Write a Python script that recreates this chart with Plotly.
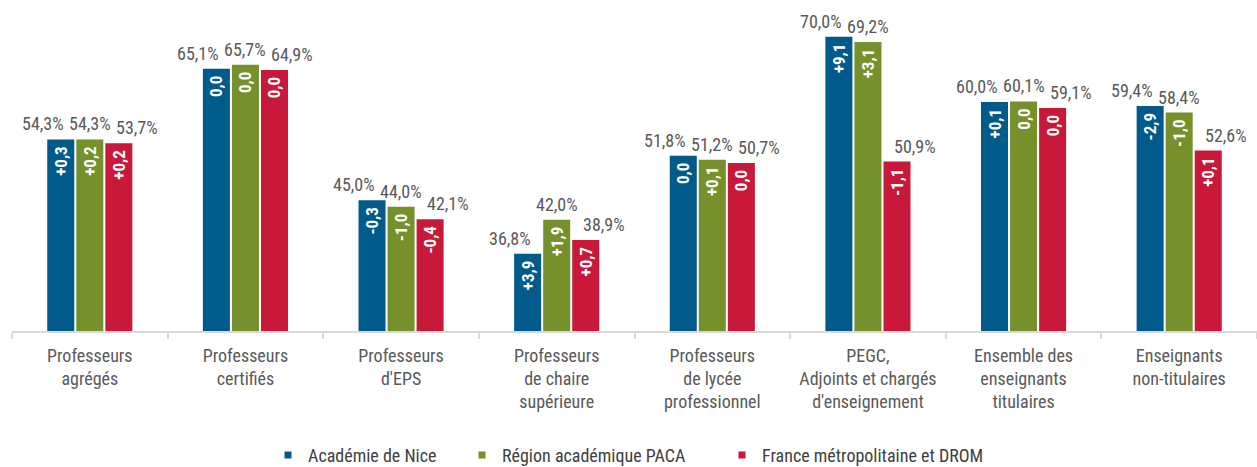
import plotly.graph_objects as go

categories = [
    "Professeurs<br>agrégés",
    "Professeurs<br>certifiés",
    "Professeurs<br>d'EPS",
    "Professeurs<br>de chaire<br>supérieure",
    "Professeurs<br>de lycée<br>professionnel",
    "PEGC,<br>Adjoints et chargés<br>d'enseignement",
    "Ensemble des<br>enseignants<br>titulaires",
    "Enseignants<br>non-titulaires",
]
series_names = ["Académie de Nice", "Région académique PACA", "France métropolitaine et DROM"]
nice = [54.3, 65.1, 45.0, 36.8, 51.8, 70.0, 60.0, 59.4]
paca = [54.3, 65.7, 44.0, 42.0, 51.2, 69.2, 60.1, 58.4]
france = [53.7, 64.9, 42.1, 38.9, 50.7, 50.9, 59.1, 52.6]
nice_diff = ["+0,3", "0,0", "-0,3", "+3,9", "0,0", "+9,1", "+0,1", "-2,9"]
paca_diff = ["+0,2", "0,0", "-1,0", "+1,9", "+0,1", "+3,1", "0,0", "-1,0"]
france_diff = ["+0,2", "0,0", "-0,4", "+0,7", "0,0", "-1,1", "0,0", "+0,1"]

colors = ["#005A8A", "#76902B", "#C8193A"]
FONT = "Roboto Condensed, Liberation Sans Narrow, Arial Narrow, Roboto, sans-serif"
label_shift = [-47, 0, 47]
legend_left_px = [268, 462, 722]
W, H = 1257, 467

def fmt(v):
    return f"{v:.1f}".replace(".", ",") + "%"

fig = go.Figure()
all_vals = [nice, paca, france]
all_diffs = [nice_diff, paca_diff, france_diff]
for i, (name, vals, diffs) in enumerate(zip(series_names, all_vals, all_diffs)):
    fig.add_trace(go.Bar(
        x=categories, y=vals, name=name,
        marker=dict(color=colors[i], line=dict(width=0)),
        text=diffs, texttemplate="%{text}\u00a0", textposition="inside",
        insidetextanchor="end", textangle=-90, constraintext="none",
        insidetextfont=dict(color="white", size=17, family=FONT, weight="bold"),
        showlegend=False, hoverinfo="skip",
    ))
    for c, v in zip(categories, vals):
        fig.add_annotation(
            x=c, y=v, text=fmt(v), showarrow=False,
            xanchor="center", yanchor="bottom", xshift=label_shift[i], yshift=3,
            font=dict(color="#595959", size=18, family=FONT),
        )
legend_keys = ["legend", "legend2", "legend3"]
for i, name in enumerate(series_names):
    fig.add_trace(go.Scatter(
        x=[categories[0]], y=[None], mode="markers", name=name,
        marker=dict(symbol="square", size=7, color=colors[i]),
        legend=legend_keys[i],
    ))

legend_common = dict(orientation="h", xref="container", yref="container", xanchor="left",
                     y=0.025, yanchor="middle", font=dict(size=18, color="#404040"),
                     itemwidth=30, bgcolor="rgba(0,0,0,0)")
fig.update_layout(
    width=W, height=H,
    margin=dict(l=12, r=0, t=4, b=136),
    paper_bgcolor="white", plot_bgcolor="white",
    barmode="group", bargap=0.44, bargroupgap=0.07,
    font=dict(family=FONT, color="#595959", size=18),
    legend=dict(x=legend_left_px[0] / W, **legend_common),
    legend2=dict(x=legend_left_px[1] / W, **legend_common),
    legend3=dict(x=legend_left_px[2] / W, **legend_common),
    xaxis=dict(showline=True, linecolor="#d9d9d9", linewidth=2, ticks="outside",
               tickson="boundaries", ticklen=6, tickcolor="#d9d9d9", tickwidth=2,
               tickfont=dict(size=18, color="#595959"), showgrid=False,
               ticklabelstandoff=7, automargin=False),
    yaxis=dict(range=[25, 75], visible=False, showgrid=False, zeroline=False),
)
fig.write_html("out.html", config={"displayModeBar": False},
               post_script="document.body.style.margin='0px';")
